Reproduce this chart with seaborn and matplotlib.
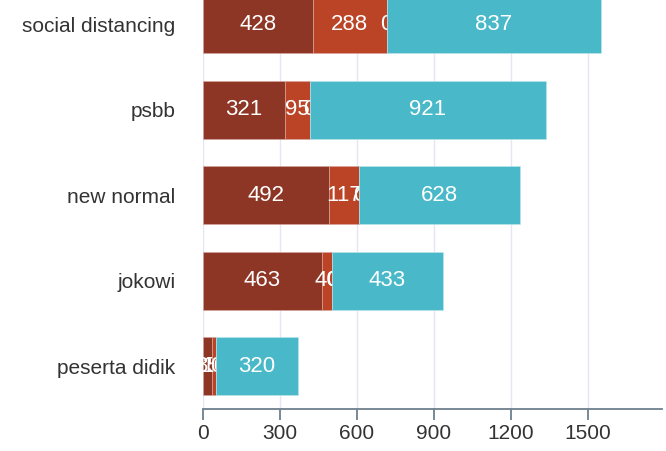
import pandas as pd
import seaborn as sns
import matplotlib.pyplot as plt

# data
categories = ["social distancing", "psbb", "new normal", "jokowi", "peserta didik"]
series_names = ["dark", "orange", "zero", "cyan"]
dark = [428, 321, 492, 463, 35]
orange = [288, 95, 117, 40, 16]
zero = [0, 0, 0, 0, 0]
cyan = [837, 921, 628, 433, 320]
colors = ["#8e3626", "#bb4427", "#e08a2e", "#49b9c9"]
x_ticks = [0, 300, 600, 900, 1200, 1500]

df = pd.DataFrame({"dark": dark, "orange": orange, "zero": zero, "cyan": cyan},
                  index=categories)

sns.set_theme(style="white")
plt.rcParams["font.family"] = ["Liberation Sans", "DejaVu Sans"]

fig = plt.figure(figsize=(6.66, 4.51), dpi=100)
ax = fig.add_axes([203 / 666, 42 / 451, (662 - 203) / 666, (409 + 18.5) / 451])

ypos = list(range(len(categories)))
left = [0] * len(categories)

# each segment drawn in order, labels under the next segment
for i, name in enumerate(series_names):
    vals = df[name].tolist()
    ax.barh(ypos, vals, left=left, height=0.68, color=colors[i],
            edgecolor="#d9a8a0" if i < 2 else "#bfe6ec", linewidth=0.4,
            zorder=3 + 2 * i)
    for y, v, l in zip(ypos, vals, left):
        ax.text(l + v / 2, y, str(v), color="white", fontsize=16,
                ha="center", va="center", zorder=4 + 2 * i)
    left = [a + b for a, b in zip(left, vals)]

ax.set_ylim(4.5, -0.5)
ax.set_xlim(0, 1790)
ax.set_yticks(ypos)
ax.set_yticklabels(categories)
ax.set_xticks(x_ticks)
ax.set_xticklabels([str(t) for t in x_ticks])

ax.grid(axis="x", color="#e6e6f2", linewidth=1, zorder=0)
ax.grid(axis="y", visible=False)
for s in ["top", "right", "left"]:
    ax.spines[s].set_visible(False)
ax.spines["bottom"].set_color("#6e7f8d")
ax.spines["bottom"].set_linewidth(1.3)

ax.tick_params(axis="x", bottom=True, length=8, width=1.3, color="#6e7f8d",
               labelsize=15, labelcolor="#333333", pad=3)
ax.tick_params(axis="y", left=False, labelsize=15, labelcolor="#333333", pad=14)

fig.savefig("out.png", dpi=100)
